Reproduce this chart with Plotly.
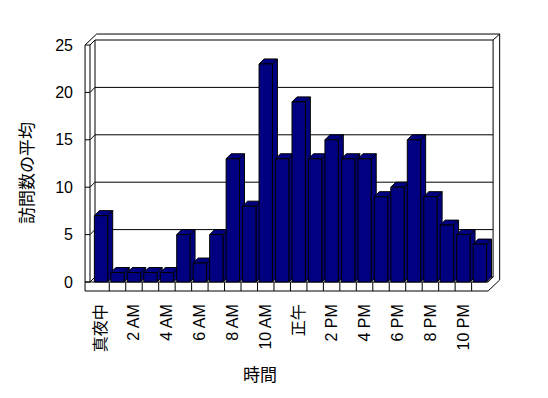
import plotly.graph_objects as go

# ---- data ----
categories = ["真夜中", "1 AM", "2 AM", "3 AM", "4 AM", "5 AM", "6 AM", "7 AM",
              "8 AM", "9 AM", "10 AM", "11 AM", "正午", "1 PM", "2 PM", "3 PM",
              "4 PM", "5 PM", "6 PM", "7 PM", "8 PM", "9 PM", "10 PM", "11 PM"]
visits = [7, 1, 1, 1, 1, 5, 2, 5, 13, 8, 23, 13, 19, 13, 15, 13, 13, 9, 10, 15, 9, 6, 5, 4]
y_ticks = [0, 5, 10, 15, 20, 25]
x_title = "時間"
y_title = "訪問数の平均"

NAVY = "#000080"
FONT = "Liberation Sans, Arial, Noto Sans CJK JP, sans-serif"

n = len(visits)
xs = list(range(n))
tick_idx = xs[::2]
tick_txt = [categories[i] for i in tick_idx]

# ---- pseudo-3D geometry (data units) ----
VMAX = y_ticks[-1]
BW = 0.81          # bar width
DX, DY = 0.304, 0.527   # depth offset
XL = -0.67         # inner edge of left wall (front)
WT = 0.30          # left wall thickness
XR = n - 0.5       # right edge of floor (front)
TX, TY = 0.40, 0.63     # back wall thickness offset
FT = 0.95          # floor thickness

# plot area in pixels and scales
L, R, T, B = 80, 510, 30, 300
PXX, PXY = 16.47, 9.48
x0 = -0.5 - (92.8 - L) / PXX
x1 = x0 + (R - L) / PXX
y1 = (282 - T) / PXY
y0 = (282 - B) / PXY

shapes = []
def line(xa, ya, xb, yb):
    shapes.append(dict(type="line", xref="x", yref="y", x0=xa, y0=ya, x1=xb, y1=yb,
                       line=dict(color="black", width=1), layer="below"))

def poly(pts, fill):
    path = "M " + " L ".join(f"{px},{py}" for px, py in pts) + " Z"
    shapes.append(dict(type="path", xref="x", yref="y", path=path, fillcolor=fill,
                       line=dict(color="black", width=1), layer="below"))

# outer silhouette
poly([(XL - WT, -FT), (XL - WT, VMAX), (XL - WT + DX + TX, VMAX + DY + TY),
      (XR + DX + TX, VMAX + DY + TY), (XR + DX + TX, -FT + DY + TY), (XR, -FT)], "white")
# back wall face
poly([(XL + DX, DY), (XL + DX, VMAX + DY), (XR + DX, VMAX + DY), (XR + DX, DY)], "white")
# left wall inner line + top
line(XL, 0, XL, VMAX)
line(XL, VMAX, XL + DX, VMAX + DY)
line(XR + DX, VMAX + DY, XR + DX + TX, VMAX + DY + TY)
line(XR + DX, DY, XR, 0)
# floor front face
line(XL - WT, 0, XR, 0)
for k in range(1, n):
    line(k - 0.5, -FT, k - 0.5, 0)
# gridlines
for v in y_ticks:
    line(XL - WT, v, XL, v)
    line(XL, v, XL + DX, v + DY)
    if 0 < v < VMAX:
        line(XL + DX, v + DY, XR + DX, v + DY)

# bar top and side faces
for i, v in zip(xs, visits):
    xl, xr = i - BW / 2, i + BW / 2
    poly([(xr, 0), (xr, v), (xr + DX, v + DY), (xr + DX, DY)], NAVY)
    poly([(xl, v), (xr, v), (xr + DX, v + DY), (xl + DX, v + DY)], NAVY)

fig = go.Figure()
fig.add_trace(go.Bar(x=xs, y=visits, width=BW, marker=dict(color=NAVY, line=dict(color="black", width=1)),
                     hovertext=categories, showlegend=False))

W, H = R - L, B - T
fig.update_layout(
    width=548, height=398,
    margin=dict(l=L, r=548 - R, t=T, b=398 - B),
    paper_bgcolor="white", plot_bgcolor="white",
    font=dict(family=FONT, size=16, color="black"),
    shapes=shapes,
    xaxis=dict(range=[x0, x1], showgrid=False, zeroline=False, showline=False,
               tickmode="array", tickvals=tick_idx, ticktext=tick_txt, tickangle=-90,
               ticks="", ticklabelstandoff=0),
    yaxis=dict(range=[y0, y1], showgrid=False, zeroline=False, showline=False,
               tickmode="array", tickvals=y_ticks, ticks="", ticklabelstandoff=6),
    annotations=[
        dict(text=x_title, xref="paper", yref="paper", x=(260 - L) / W, y=(B - 375) / H,
             showarrow=False, xanchor="center", yanchor="middle", font=dict(size=17)),
        dict(text=y_title, xref="paper", yref="paper", x=(27 - L) / W, y=(B - 173) / H,
             showarrow=False, xanchor="center", yanchor="middle", textangle=-90, font=dict(size=17)),
    ],
)
fig.write_html("out.html")
